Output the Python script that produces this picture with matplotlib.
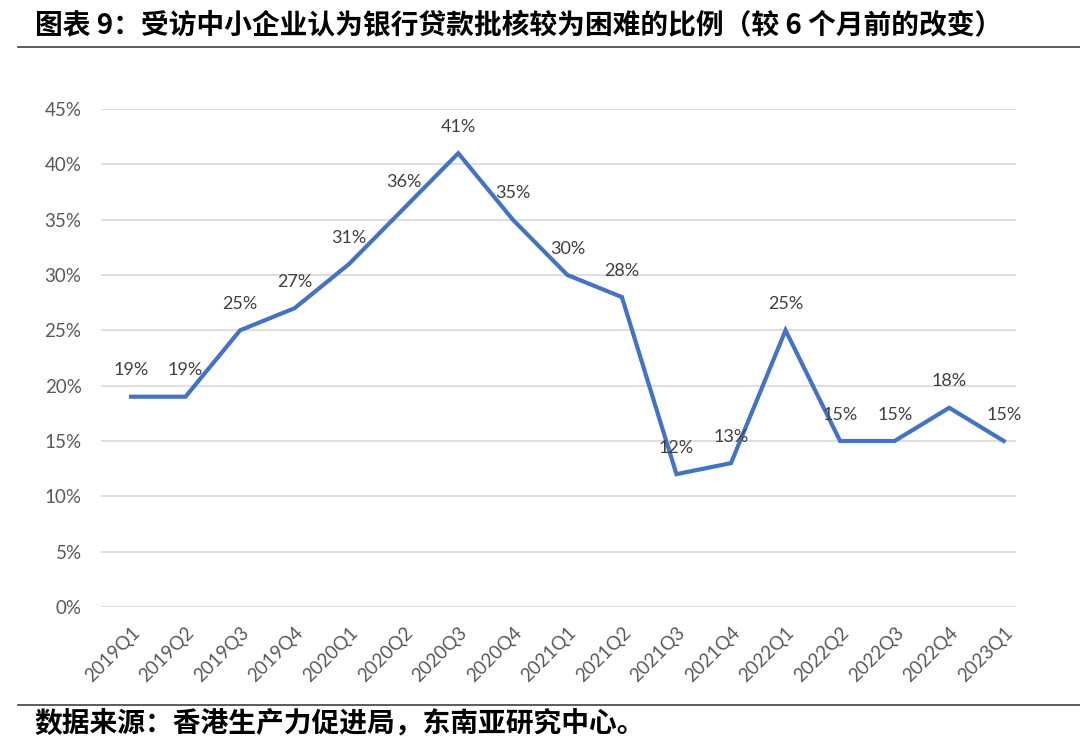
import numpy as np
import matplotlib.pyplot as plt
from matplotlib.ticker import FuncFormatter

plt.rcParams['font.family'] = ['Noto Sans CJK SC', 'DejaVu Sans']

quarters = ['2019Q1', '2019Q2', '2019Q3', '2019Q4', '2020Q1', '2020Q2', '2020Q3', '2020Q4',
            '2021Q1', '2021Q2', '2021Q3', '2021Q4', '2022Q1', '2022Q2', '2022Q3', '2022Q4', '2023Q1']
share = [19, 19, 25, 27, 31, 36, 41, 35, 30, 28, 12, 13, 25, 15, 15, 18, 15]
yticks = [0, 5, 10, 15, 20, 25, 30, 35, 40, 45]

title = '图表 9：受访中小企业认为银行贷款批核较为困难的比例（较 6 个月前的改变）'
source = '数据来源：香港生产力促进局，东南亚研究中心。'

fig = plt.figure(figsize=(10.8, 7.5), dpi=100)
ax = fig.add_axes([0.0935, 0.1907, 0.847, 0.664])

x = np.arange(len(quarters))
ax.plot(x, share, color='#4472C4', lw=3, solid_joinstyle='miter', zorder=3)
for xi, v in zip(x, share):
    ax.annotate('%d%%' % v, xy=(xi, v), xytext=(0, 19), textcoords='offset points',
                ha='center', va='center', fontsize=13, color='#404040',
                family=['Lato', 'DejaVu Sans'])

ax.set_ylim(0, 45)
ax.set_xlim(-0.55, 16.22)
ax.set_yticks(yticks)
ax.yaxis.set_major_formatter(FuncFormatter(lambda v, p: '%d%%' % v))
ax.set_xticks(x)
ax.set_xticklabels(quarters, rotation=45, ha='right', rotation_mode='anchor')
ax.grid(axis='y', color='#D9D9D9', lw=1.2)
ax.set_axisbelow(True)
for s in ax.spines.values():
    s.set_visible(False)
ax.tick_params(length=0, labelsize=13.5, labelcolor='#595959')
ax.tick_params(axis='y', pad=14)
ax.tick_params(axis='x', pad=12)
for lab in ax.get_xticklabels() + ax.get_yticklabels():
    lab.set_family(['Lato', 'DejaVu Sans'])

fig.text(0.032, 0.965, title, fontsize=20, fontweight='bold', va='center', ha='left')
fig.add_artist(plt.Line2D([0.017, 1.0], [0.937, 0.937], color='#404040', lw=1.2))
fig.add_artist(plt.Line2D([0.017, 1.0], [0.06, 0.06], color='#404040', lw=1.2))
fig.text(0.032, 0.036, source, fontsize=20, fontweight='bold', va='center', ha='left')

fig.savefig('out.png', dpi=100)
